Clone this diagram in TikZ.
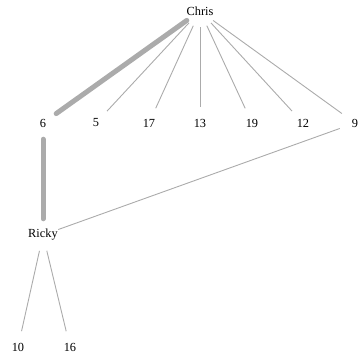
\documentclass[tikz,border=0pt]{standalone}
\usepackage{fontspec}
\setmainfont{Liberation Serif}
\begin{document}
\begin{tikzpicture}[x=1bp,y=-1bp,
  vtx/.style={circle,minimum size=32bp,inner sep=0pt,font=\fontsize{12.4}{14}\selectfont},
  thin/.style={draw=black!33,line width=0.9bp},
  thick/.style={draw=black!33,line width=5bp,line cap=round}]
\useasboundingbox (0,0) rectangle (363,363);
\node[vtx] (chris) at (200,11) {Chris};
\node[vtx] (n6) at (43,123) {6};
\node[vtx] (n5) at (96,123) {5};
\node[vtx] (n17) at (149,123) {17};
\node[vtx] (n13) at (200,123) {13};
\node[vtx] (n19) at (252,123) {19};
\node[vtx] (n12) at (303,123) {12};
\node[vtx] (n9) at (355,123) {9};
\node[vtx] (ricky) at (43,235) {Ricky};
\node[vtx] (n10) at (18,347) {10};
\node[vtx] (n16) at (70,347) {16};
\draw[thick] (chris) -- (n6);
\draw[thick] (n6) -- (ricky);
\foreach \t in {n5,n17,n13,n19,n12,n9} \draw[thin] (chris) -- (\t);
\draw[thin] (ricky) -- (n9);
\draw[thin] (ricky) -- (n10);
\draw[thin] (ricky) -- (n16);
\end{tikzpicture}
\end{document}
